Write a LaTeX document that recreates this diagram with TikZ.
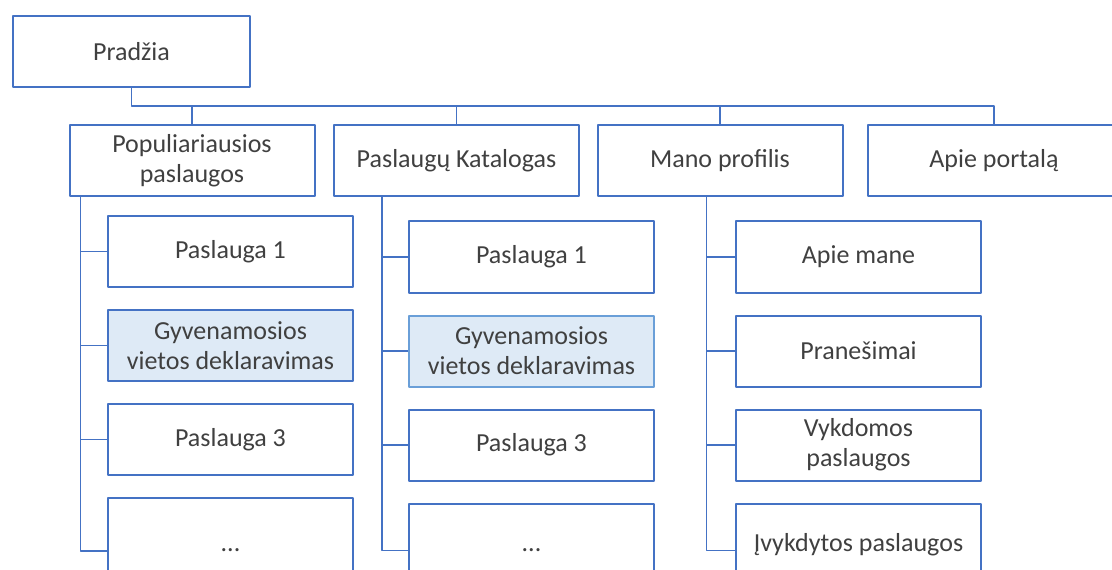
\documentclass[tikz,border=0pt]{standalone}
\usepackage{fontspec}
\setmainfont{Carlito}
\usetikzlibrary{positioning}
\definecolor{rem}{HTML}{4472C4}
\definecolor{remsv}{HTML}{6A9FD8}
\definecolor{pild}{HTML}{DEEAF6}
\definecolor{tekst}{HTML}{404040}
\begin{document}
\begin{tikzpicture}[x=0.75pt, y=-0.75pt, line join=round, font=\fontsize{19.5}{22.5}\selectfont,
	box/.style={draw=rem, line width=1.5pt, text=tekst, align=center, inner sep=2pt,
		minimum width=245*\ux, minimum height=71*\ux},
	hl/.style={box, fill=pild},
	last/.style={box, text height=14pt, text depth=13pt},
	link/.style={draw=rem, line width=1.4pt}]
	\def\ux{0.75pt} \def\gap{15.75pt}
	\useasboundingbox (0,0) rectangle (1112,570);
	\clip (0,0) rectangle (1112,570);
	% virsus
	\node[box, minimum width=237*\ux] (prad) at (131.5,51.5) {Pradžia};
	\node[box] (pop) at (192,160.5) {Populiariausios\\paslaugos};
	\node[box] (kat) at (456.5,160.5) {Paslaugų Katalogas};
	\node[box] (prof) at (720,160.5) {Mano profilis};
	\node[box, minimum width=252*\ux] (apie) at (994,160.5) {Apie portalą};
	% stulpelis 1
	\node[box] (c1a) at (230.5,251.5) {Paslauga 1};
	\node[hl, below=\gap of c1a] (c1b) {Gyvenamosios\\vietos deklaravimas};
	\node[box, below=\gap of c1b] (c1c) {Paslauga 3};
	\node[last, below=\gap of c1c, minimum height=106*\ux] (c1d) {...};
	% stulpelis 2
	\node[box] (c2a) at (531.5,257) {Paslauga 1};
	\node[hl, draw=remsv, below=\gap of c2a] (c2b) {Gyvenamosios\\vietos deklaravimas};
	\node[box, below=\gap of c2b] (c2c) {Paslauga 3};
	\node[last, below=\gap of c2c, minimum height=94*\ux] (c2d) {...};
	% stulpelis 3
	\node[box] (c3a) at (858.5,257) {Apie mane};
	\node[box, below=\gap of c3a] (c3b) {Pranešimai};
	\node[box, below=\gap of c3b] (c3c) {Vykdomos\\paslaugos};
	\node[last, below=\gap of c3c, minimum height=94*\ux] (c3d) {Įvykdytos paslaugos};
	% jungtys
	\draw[link] (prad.south) -- ++(0,18) coordinate (b0) -| (apie.north);
	\foreach \n in {pop,kat,prof} \draw[link] (b0 -| \n.north) -- (\n.north);
	\coordinate (t1) at ([xshift=12*\ux]pop.south west);
	\coordinate (t2) at ([xshift=49*\ux]kat.south west);
	\coordinate (t3) at ([xshift=110*\ux]prof.south west);
	\foreach \k in {1,2,3}{
		\draw[link] (t\k) |- (c\k d.west);
		\foreach \r in {a,b,c} \draw[link] (t\k |- c\k\r.west) -- (c\k\r.west);
	}
\end{tikzpicture}
\end{document}
